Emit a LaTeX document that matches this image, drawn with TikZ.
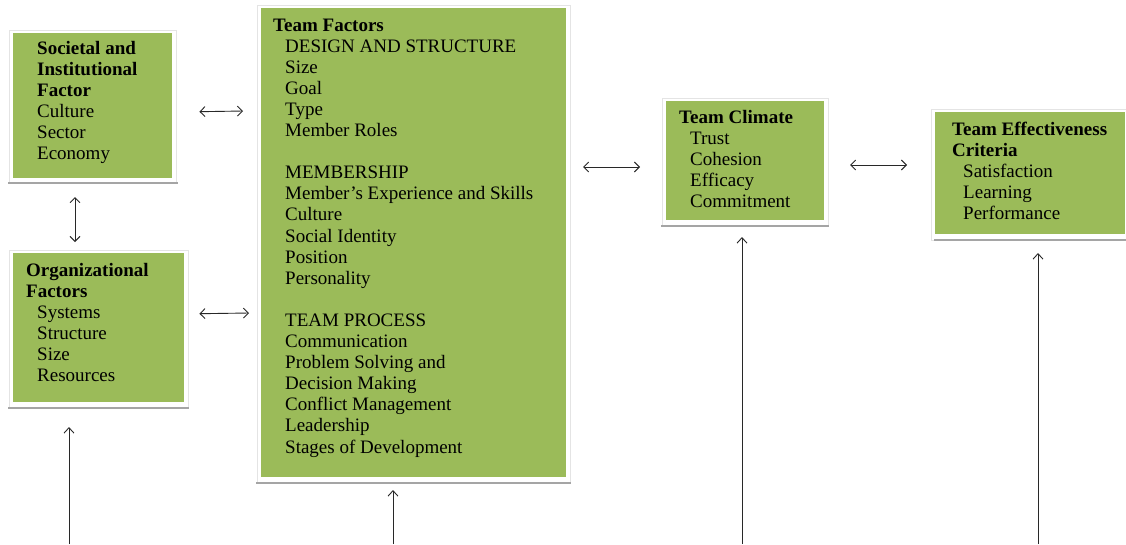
\documentclass[tikz,border=0pt]{standalone}
\usepackage{fontspec}
\setmainfont{Liberation Serif}
\usetikzlibrary{arrows.meta,calc}
\definecolor{boxgreen}{RGB}{155,187,89}
\definecolor{shadowgray}{RGB}{165,165,165}
\definecolor{framegray}{RGB}{228,228,228}
\definecolor{arrowgray}{RGB}{40,40,40}
\newcommand{\boxlines}[1]{\vtop{\baselineskip=21.1pt\lineskiplimit=-20pt #1}}
\newcommand{\hd}[1]{\hbox{\bfseries #1}}
\newcommand{\itm}[2][11pt]{\hbox{\hspace*{#1}#2}}
\begin{document}
\begin{tikzpicture}[x=1pt,y=-1pt,
  greenbox/.style={fill=boxgreen,draw=none,anchor=north west,inner sep=0pt},
  boxtext/.style={anchor=base west,inner sep=0pt,font=\fontsize{19}{21.1}\selectfont},
  frame/.style={draw=framegray,line width=0.8pt},
  shadowline/.style={draw=shadowgray,line width=2.6pt},
  link/.style={draw=arrowgray,line width=0.9pt,{Straight Barb[length=5pt,width=10pt]}-{Straight Barb[length=5pt,width=10pt]}},
  feed/.style={draw=arrowgray,line width=0.9pt,-{Straight Barb[length=5.5pt,width=10pt]}}]
\useasboundingbox (0,0) rectangle (1126,544);

% white frames with a grey rule beneath each box
\draw[frame] (9,30) rectangle (176,183);
\draw[shadowline] (8,183) -- (178,183);
\draw[frame] (9,250) rectangle (188,408);
\draw[shadowline] (8,408) -- (189,408);
\draw[frame] (257,5) rectangle (570,483);
\draw[shadowline] (256,483) -- (571,483);
\draw[frame] (662,98) rectangle (828,226);
\draw[shadowline] (661,226) -- (829,226);
\draw[frame] (931,109) rectangle (1128,240);
\draw[shadowline] (934,240) -- (1126,240);

% green boxes
\node[greenbox,minimum width=159pt,minimum height=145pt] (soc) at (13,33) {};
\node[greenbox,minimum width=171pt,minimum height=149pt] (org) at (13,253) {};
\node[greenbox,minimum width=305pt,minimum height=469pt] (tf) at (261,8) {};
\node[greenbox,minimum width=158pt,minimum height=119pt] (clim) at (666,101) {};
\node[greenbox,minimum width=190pt,minimum height=122pt] (eff) at (935,112) {};

% box contents
\node[boxtext] (soctext) at (37,54) {\boxlines{%
  \hd{Societal and}\hd{Institutional}\hd{Factor}%
  \itm[0pt]{Culture}\itm[0pt]{Sector}\itm[0pt]{Economy}}};
\node[boxtext] (orgtext) at (26,276) {\boxlines{%
  \hd{Organizational}\hd{Factors}%
  \itm{Systems}\itm{Structure}\itm{Size}\itm{Resources}}};
\node[boxtext] (tftext) at (273,31) {\boxlines{%
  \hd{Team Factors}%
  \itm[12pt]{DESIGN AND STRUCTURE}\itm[12pt]{Size}\itm[12pt]{Goal}\itm[12pt]{Type}\itm[12pt]{Member Roles}%
  \hbox{}%
  \itm[12pt]{MEMBERSHIP}\itm[12pt]{Member’s Experience and Skills}\itm[12pt]{Culture}%
  \itm[12pt]{Social Identity}\itm[12pt]{Position}\itm[12pt]{Personality}%
  \hbox{}%
  \itm[12pt]{TEAM PROCESS}\itm[12pt]{Communication}\itm[12pt]{Problem Solving and}%
  \itm[12pt]{Decision Making}\itm[12pt]{Conflict Management}\itm[12pt]{Leadership}%
  \itm[12pt]{Stages of Development}}};
\node[boxtext] (climtext) at (679,123) {\boxlines{%
  \hd{Team Climate}\itm{Trust}\itm{Cohesion}\itm{Efficacy}\itm{Commitment}}};
\node[boxtext] (efftext) at (952,135) {\boxlines{%
  \hd{Team Effectiveness}\hd{Criteria}\itm{Satisfaction}\itm{Learning}\itm{Performance}}};

% two-way links between boxes
\coordinate (socR) at ($(soc.east)+(27,6)$);
\coordinate (tfL1) at (243,111);
\coordinate (orgR) at ($(org.east)+(15,-14)$);
\coordinate (tfL2) at (249,313);
\coordinate (socB) at (75,197);
\coordinate (orgT) at (75,242);
\coordinate (tfR) at (583,167);
\coordinate (climL) at (640,167);
\coordinate (climR) at (850,165);
\coordinate (effL) at (907,165);
\draw[link] (socR) -- (tfL1);
\draw[link] (orgR) -- (tfL2);
\draw[link] (socB) -- (orgT);
\draw[link] (tfR) -- (climL);
\draw[link] (climR) -- (effL);

% inputs rising from below
\coordinate (orgIn) at (69,544);
\coordinate (orgTip) at (69,427);
\coordinate (tfIn) at (393,544);
\coordinate (tfTip) at (393,490);
\coordinate (climIn) at (742,544);
\coordinate (climTip) at (742,237);
\coordinate (effIn) at (1038,544);
\coordinate (effTip) at (1038,253);
\draw[feed] (orgIn) -- (orgTip);
\draw[feed] (tfIn) -- (tfTip);
\draw[feed] (climIn) -- (climTip);
\draw[feed] (effIn) -- (effTip);
\end{tikzpicture}
\end{document}
